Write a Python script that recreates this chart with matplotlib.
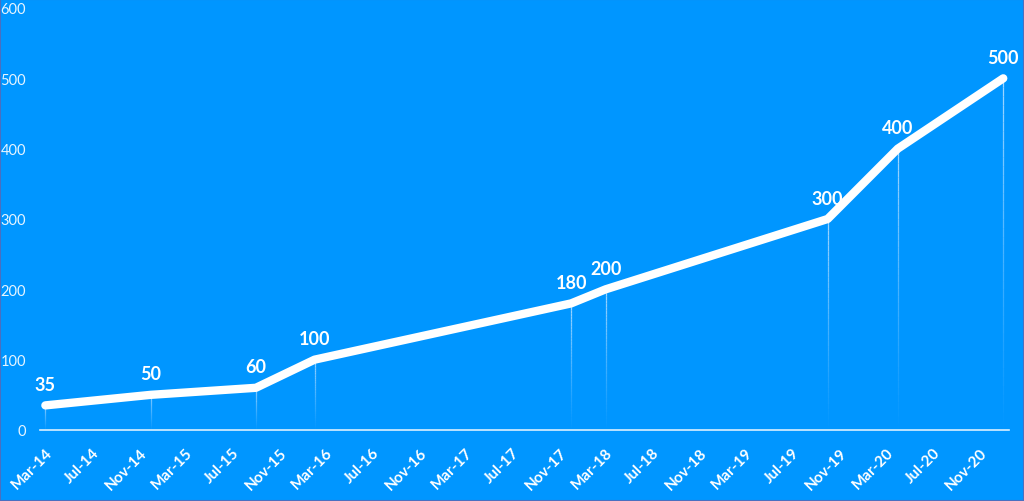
import datetime as dt
import numpy as np
import matplotlib
matplotlib.use("Agg")
import matplotlib.pyplot as plt
import matplotlib.dates as mdates
from matplotlib.collections import LineCollection

# ---- data ----
dates = ["2014-03-01", "2014-12-01", "2015-09-01", "2016-02-01", "2017-12-01",
         "2018-03-01", "2019-10-01", "2020-04-01", "2021-01-01"]
values = [35, 50, 60, 100, 180, 200, 300, 400, 500]
y_ticks = [0, 100, 200, 300, 400, 500, 600]

BG = "#0096FF"
x = [dt.datetime.strptime(d, "%Y-%m-%d") for d in dates]

plt.rcParams["font.family"] = ["Lato", "DejaVu Sans"]

fig = plt.figure(figsize=(10.24, 5.02), dpi=100, facecolor=BG)
ax = fig.add_axes([40 / 1024, 71 / 502, 969 / 1024, 422 / 502])
ax.set_facecolor(BG)

# drop lines with fading alpha
xn = mdates.date2num(x)
segs, cols = [], []
for xi, v in zip(xn, values):
    ys = np.linspace(v, 0, 41)
    for k in range(40):
        segs.append([(xi, ys[k]), (xi, ys[k + 1])])
        a = 0.75 * (1 - k / 40) ** 1.2
        cols.append((0.85, 0.93, 1.0, a))
ax.add_collection(LineCollection(segs, colors=cols, linewidths=0.9, zorder=2))

ax.plot(x, values, color="white", lw=6, solid_capstyle="round",
        solid_joinstyle="round", zorder=3)

for xi, v in zip(x, values):
    ax.annotate(str(v), (xi, v), xytext=(0, 15), textcoords="offset points",
                ha="center", va="center", color="white", fontsize=13,
                fontweight="bold", zorder=4)

ax.set_ylim(0, 600)
ax.set_yticks(y_ticks)
ax.set_xlim(dt.datetime(2014, 2, 15), dt.datetime(2021, 1, 16))
ax.xaxis.set_major_locator(mdates.MonthLocator(bymonth=[3, 7, 11]))
ax.xaxis.set_major_formatter(mdates.DateFormatter("%b-%y"))

for s in ["top", "right", "left"]:
    ax.spines[s].set_visible(False)
ax.spines["bottom"].set_color((1, 1, 1, 0.85))
ax.spines["bottom"].set_linewidth(1.2)

ax.tick_params(axis="y", length=0, pad=10, colors="white", labelsize=10.5)
ax.tick_params(axis="x", length=0, pad=11, colors="white", labelsize=11)
for lab in ax.get_xticklabels():
    lab.set_rotation(45)
    lab.set_ha("right")
    lab.set_rotation_mode("anchor")
    lab.set_fontweight("bold")
for lab in ax.get_yticklabels():
    lab.set_color((1, 1, 1, 0.9))

fig.patches.append(plt.Rectangle((0, 0), 1, 1, transform=fig.transFigure,
                                 fill=False, edgecolor="#4A6FC0", lw=1.5))

fig.savefig("out.png", dpi=100, facecolor=BG)
